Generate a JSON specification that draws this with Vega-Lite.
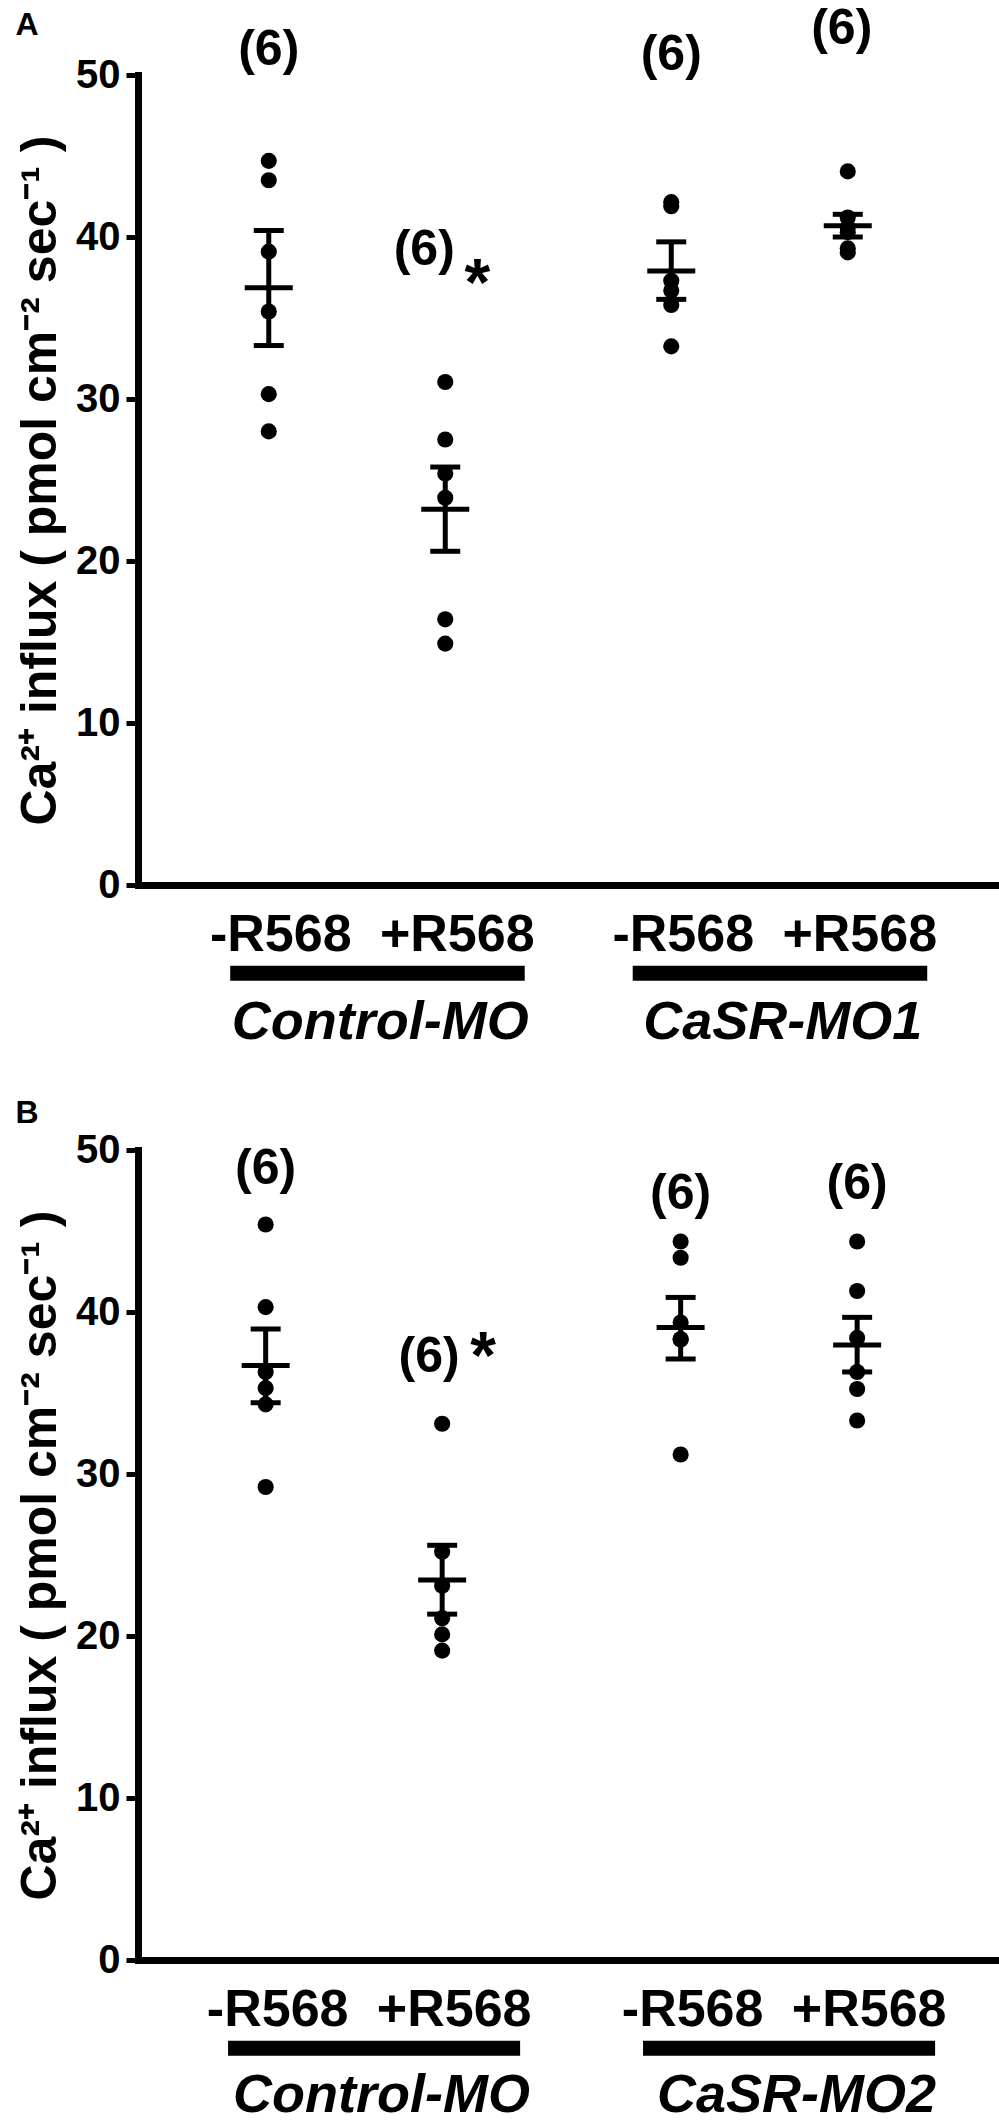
{
  "$schema": "https://vega.github.io/schema/vega-lite/v6.json",
  "background": "white",
  "padding": {"left": 15, "top": 3, "right": 0, "bottom": 0},
  "autosize": {"type": "pad"},
  "bounds": "flush",
  "spacing": 265,
  "config": {
    "view": {"stroke": null},
    "font": "Liberation Sans",
    "axis": {"domainColor": "black", "domainWidth": 7, "domainCap": "square", "tickColor": "black", "tickWidth": 5, "tickSize": 12, "labelColor": "black", "labelFontSize": 40, "labelFontWeight": "bold", "labelPadding": 6, "titleColor": "black", "titleFontSize": 50, "titleFontWeight": "bold", "titlePadding": 10, "grid": false},
    "title": {"color": "black", "fontSize": 32, "fontWeight": "bold", "anchor": "start", "frame": "bounds"}
  },
  "datasets": {
    "points": [
      {"panel": "A", "group": "Control-MO", "treatment": "-R568", "value": 44.7},
      {"panel": "A", "group": "Control-MO", "treatment": "-R568", "value": 43.5},
      {"panel": "A", "group": "Control-MO", "treatment": "-R568", "value": 39.1},
      {"panel": "A", "group": "Control-MO", "treatment": "-R568", "value": 35.4},
      {"panel": "A", "group": "Control-MO", "treatment": "-R568", "value": 30.3},
      {"panel": "A", "group": "Control-MO", "treatment": "-R568", "value": 28.0},
      {"panel": "A", "group": "Control-MO", "treatment": "+R568", "value": 31.05},
      {"panel": "A", "group": "Control-MO", "treatment": "+R568", "value": 27.5},
      {"panel": "A", "group": "Control-MO", "treatment": "+R568", "value": 25.4},
      {"panel": "A", "group": "Control-MO", "treatment": "+R568", "value": 23.9},
      {"panel": "A", "group": "Control-MO", "treatment": "+R568", "value": 16.4},
      {"panel": "A", "group": "Control-MO", "treatment": "+R568", "value": 14.9},
      {"panel": "A", "group": "CaSR-MO1", "treatment": "-R568", "value": 42.15},
      {"panel": "A", "group": "CaSR-MO1", "treatment": "-R568", "value": 41.9},
      {"panel": "A", "group": "CaSR-MO1", "treatment": "-R568", "value": 37.3},
      {"panel": "A", "group": "CaSR-MO1", "treatment": "-R568", "value": 36.7},
      {"panel": "A", "group": "CaSR-MO1", "treatment": "-R568", "value": 35.8},
      {"panel": "A", "group": "CaSR-MO1", "treatment": "-R568", "value": 33.25},
      {"panel": "A", "group": "CaSR-MO1", "treatment": "+R568", "value": 44.05},
      {"panel": "A", "group": "CaSR-MO1", "treatment": "+R568", "value": 41.2},
      {"panel": "A", "group": "CaSR-MO1", "treatment": "+R568", "value": 40.6},
      {"panel": "A", "group": "CaSR-MO1", "treatment": "+R568", "value": 40.3},
      {"panel": "A", "group": "CaSR-MO1", "treatment": "+R568", "value": 39.3},
      {"panel": "A", "group": "CaSR-MO1", "treatment": "+R568", "value": 39.05},
      {"panel": "B", "group": "Control-MO", "treatment": "-R568", "value": 45.4},
      {"panel": "B", "group": "Control-MO", "treatment": "-R568", "value": 40.3},
      {"panel": "B", "group": "Control-MO", "treatment": "-R568", "value": 36.3},
      {"panel": "B", "group": "Control-MO", "treatment": "-R568", "value": 35.3},
      {"panel": "B", "group": "Control-MO", "treatment": "-R568", "value": 34.3},
      {"panel": "B", "group": "Control-MO", "treatment": "-R568", "value": 29.2},
      {"panel": "B", "group": "Control-MO", "treatment": "+R568", "value": 33.1},
      {"panel": "B", "group": "Control-MO", "treatment": "+R568", "value": 25.2},
      {"panel": "B", "group": "Control-MO", "treatment": "+R568", "value": 23.1},
      {"panel": "B", "group": "Control-MO", "treatment": "+R568", "value": 21.1},
      {"panel": "B", "group": "Control-MO", "treatment": "+R568", "value": 20.1},
      {"panel": "B", "group": "Control-MO", "treatment": "+R568", "value": 19.1},
      {"panel": "B", "group": "CaSR-MO2", "treatment": "-R568", "value": 44.35},
      {"panel": "B", "group": "CaSR-MO2", "treatment": "-R568", "value": 43.35},
      {"panel": "B", "group": "CaSR-MO2", "treatment": "-R568", "value": 39.35},
      {"panel": "B", "group": "CaSR-MO2", "treatment": "-R568", "value": 38.33},
      {"panel": "B", "group": "CaSR-MO2", "treatment": "-R568", "value": 38.3},
      {"panel": "B", "group": "CaSR-MO2", "treatment": "-R568", "value": 31.2},
      {"panel": "B", "group": "CaSR-MO2", "treatment": "+R568", "value": 44.35},
      {"panel": "B", "group": "CaSR-MO2", "treatment": "+R568", "value": 41.3},
      {"panel": "B", "group": "CaSR-MO2", "treatment": "+R568", "value": 38.4},
      {"panel": "B", "group": "CaSR-MO2", "treatment": "+R568", "value": 36.3},
      {"panel": "B", "group": "CaSR-MO2", "treatment": "+R568", "value": 35.25},
      {"panel": "B", "group": "CaSR-MO2", "treatment": "+R568", "value": 33.3}
    ],
    "summary": [
      {"panel": "A", "group": "Control-MO", "treatment": "-R568", "mean": 36.87, "lo": 33.3, "hi": 40.4, "nlabel": "(6)"},
      {"panel": "A", "group": "Control-MO", "treatment": "+R568", "mean": 23.2, "lo": 20.6, "hi": 25.8, "nlabel": "(6)"},
      {"panel": "A", "group": "CaSR-MO1", "treatment": "-R568", "mean": 37.9, "lo": 36.15, "hi": 39.7, "nlabel": "(6)"},
      {"panel": "A", "group": "CaSR-MO1", "treatment": "+R568", "mean": 40.7, "lo": 40.0, "hi": 41.4, "nlabel": "(6)"},
      {"panel": "B", "group": "Control-MO", "treatment": "-R568", "mean": 36.7, "lo": 34.4, "hi": 38.95, "nlabel": "(6)"},
      {"panel": "B", "group": "Control-MO", "treatment": "+R568", "mean": 23.45, "lo": 21.35, "hi": 25.6, "nlabel": "(6)"},
      {"panel": "B", "group": "CaSR-MO2", "treatment": "-R568", "mean": 39.04, "lo": 37.1, "hi": 40.9, "nlabel": "(6)"},
      {"panel": "B", "group": "CaSR-MO2", "treatment": "+R568", "mean": 37.96, "lo": 36.3, "hi": 39.67, "nlabel": "(6)"}
    ]
  },
  "vconcat": [
    {
      "width": 862,
      "height": 810,
      "title": {"text": "A", "offset": -38},
      "layer": [
        {
          "data": {"name": "points"},
          "transform": [{"filter": "datum.panel === 'A'"}],
          "mark": {"type": "circle", "size": 260, "color": "black", "opacity": 1},
          "encoding": {
            "x": {"field": "group", "type": "nominal", "sort": ["Control-MO", "CaSR-MO1"], "scale": {"type": "band", "paddingInner": 0.1, "paddingOuter": 0.1208, "align": 0.3895}, "axis": {"labels": false, "ticks": false, "title": null}},
            "xOffset": {"field": "treatment", "type": "nominal", "sort": ["-R568", "+R568"], "scale": {"paddingInner": 0, "paddingOuter": 0.0262}},
            "y": {"field": "value", "type": "quantitative", "scale": {"domain": [0, 50], "nice": false, "zero": true}, "axis": {"values": [0, 10, 20, 30, 40, 50], "title": "Ca²⁺ influx ( pmol cm⁻² sec⁻¹ )"}}
          }
        },
        {
          "data": {"name": "summary"},
          "transform": [{"filter": "datum.panel === 'A'"}],
          "mark": {"type": "rule", "strokeWidth": 5, "color": "black"},
          "encoding": {
            "x": {"field": "group", "type": "nominal", "sort": ["Control-MO", "CaSR-MO1"]},
            "xOffset": {"field": "treatment", "type": "nominal", "sort": ["-R568", "+R568"]},
            "y": {"field": "lo", "type": "quantitative"},
            "y2": {"field": "hi"}
          }
        },
        {
          "data": {"name": "summary"},
          "transform": [{"filter": "datum.panel === 'A'"}],
          "mark": {"type": "tick", "thickness": 5, "size": 48, "color": "black", "opacity": 1},
          "encoding": {
            "x": {"field": "group", "type": "nominal", "sort": ["Control-MO", "CaSR-MO1"]},
            "xOffset": {"field": "treatment", "type": "nominal", "sort": ["-R568", "+R568"]},
            "y": {"field": "mean", "type": "quantitative"}
          }
        },
        {
          "data": {"name": "summary"},
          "transform": [{"filter": "datum.panel === 'A'"}],
          "mark": {"type": "tick", "thickness": 5, "size": 30, "color": "black", "opacity": 1},
          "encoding": {
            "x": {"field": "group", "type": "nominal", "sort": ["Control-MO", "CaSR-MO1"]},
            "xOffset": {"field": "treatment", "type": "nominal", "sort": ["-R568", "+R568"]},
            "y": {"field": "lo", "type": "quantitative"}
          }
        },
        {
          "data": {"name": "summary"},
          "transform": [{"filter": "datum.panel === 'A'"}],
          "mark": {"type": "tick", "thickness": 5, "size": 30, "color": "black", "opacity": 1},
          "encoding": {
            "x": {"field": "group", "type": "nominal", "sort": ["Control-MO", "CaSR-MO1"]},
            "xOffset": {"field": "treatment", "type": "nominal", "sort": ["-R568", "+R568"]},
            "y": {"field": "hi", "type": "quantitative"}
          }
        },
        {
          "data": {"name": "summary"},
          "transform": [{"filter": "datum.panel === 'A'"}],
          "mark": {"type": "text", "fontSize": 52, "fontWeight": "bold", "color": "black", "baseline": "alphabetic", "align": "center", "dx": 12},
          "encoding": {
            "x": {"field": "group", "type": "nominal", "sort": ["Control-MO", "CaSR-MO1"]},
            "xOffset": {"field": "treatment", "type": "nominal", "sort": ["-R568", "+R568"]},
            "y": {"datum": -4.1, "type": "quantitative"},
            "text": {"field": "treatment"}
          }
        },
        {
          "data": {"name": "summary"},
          "transform": [{"filter": "datum.panel === 'A' && datum.treatment === '-R568'"}],
          "mark": {"type": "rule", "strokeWidth": 15, "color": "black", "strokeCap": "butt"},
          "encoding": {
            "x": {"field": "group", "type": "nominal", "sort": ["Control-MO", "CaSR-MO1"], "bandPosition": 0.15},
            "x2": {"field": "group", "bandPosition": 0.963},
            "y": {"datum": -5.45, "type": "quantitative"}
          }
        },
        {
          "data": {"name": "summary"},
          "transform": [{"filter": "datum.panel === 'A' && datum.treatment === '-R568'"}],
          "mark": {"type": "text", "fontSize": 54, "fontWeight": "bold", "fontStyle": "italic", "color": "black", "baseline": "alphabetic", "align": "center"},
          "encoding": {
            "x": {"field": "group", "type": "nominal", "sort": ["Control-MO", "CaSR-MO1"], "bandPosition": 0.564},
            "y": {"datum": -9.5, "type": "quantitative"},
            "text": {"field": "group"}
          }
        },
        {
          "data": {"name": "summary"},
          "transform": [{"filter": "datum.panel === 'A' && datum.group === 'Control-MO' && datum.treatment === '-R568'"}],
          "mark": {"type": "text", "fontSize": 50, "fontWeight": "bold", "color": "black", "baseline": "middle", "align": "center"},
          "encoding": {
            "x": {"field": "group", "type": "nominal", "sort": ["Control-MO", "CaSR-MO1"]},
            "xOffset": {"field": "treatment", "type": "nominal", "sort": ["-R568", "+R568"]},
            "y": {"datum": 51.57, "type": "quantitative"},
            "text": {"field": "nlabel"}
          }
        },
        {
          "data": {"name": "summary"},
          "transform": [{"filter": "datum.panel === 'A' && datum.group === 'Control-MO' && datum.treatment === '+R568'"}],
          "mark": {"type": "text", "fontSize": 50, "fontWeight": "bold", "color": "black", "baseline": "middle", "align": "center", "dx": -21},
          "encoding": {
            "x": {"field": "group", "type": "nominal", "sort": ["Control-MO", "CaSR-MO1"]},
            "xOffset": {"field": "treatment", "type": "nominal", "sort": ["-R568", "+R568"]},
            "y": {"datum": 39.2, "type": "quantitative"},
            "text": {"field": "nlabel"}
          }
        },
        {
          "data": {"name": "summary"},
          "transform": [{"filter": "datum.panel === 'A' && datum.group === 'Control-MO' && datum.treatment === '+R568'"}],
          "mark": {"type": "text", "fontSize": 66, "fontWeight": "bold", "color": "black", "baseline": "alphabetic", "align": "center", "dx": 32},
          "encoding": {
            "x": {"field": "group", "type": "nominal", "sort": ["Control-MO", "CaSR-MO1"]},
            "xOffset": {"field": "treatment", "type": "nominal", "sort": ["-R568", "+R568"]},
            "y": {"datum": 35.8, "type": "quantitative"},
            "text": {"value": "*"}
          }
        },
        {
          "data": {"name": "summary"},
          "transform": [{"filter": "datum.panel === 'A' && datum.group === 'CaSR-MO1' && datum.treatment === '-R568'"}],
          "mark": {"type": "text", "fontSize": 50, "fontWeight": "bold", "color": "black", "baseline": "middle", "align": "center"},
          "encoding": {
            "x": {"field": "group", "type": "nominal", "sort": ["Control-MO", "CaSR-MO1"]},
            "xOffset": {"field": "treatment", "type": "nominal", "sort": ["-R568", "+R568"]},
            "y": {"datum": 51.26, "type": "quantitative"},
            "text": {"field": "nlabel"}
          }
        },
        {
          "data": {"name": "summary"},
          "transform": [{"filter": "datum.panel === 'A' && datum.group === 'CaSR-MO1' && datum.treatment === '+R568'"}],
          "mark": {"type": "text", "fontSize": 50, "fontWeight": "bold", "color": "black", "baseline": "middle", "align": "center", "dx": -6},
          "encoding": {
            "x": {"field": "group", "type": "nominal", "sort": ["Control-MO", "CaSR-MO1"]},
            "xOffset": {"field": "treatment", "type": "nominal", "sort": ["-R568", "+R568"]},
            "y": {"datum": 52.85, "type": "quantitative"},
            "text": {"field": "nlabel"}
          }
        }
      ]
    },
    {
      "width": 862,
      "height": 810,
      "title": {"text": "B", "offset": 0},
      "layer": [
        {
          "data": {"name": "points"},
          "transform": [{"filter": "datum.panel === 'B'"}],
          "mark": {"type": "circle", "size": 260, "color": "black", "opacity": 1},
          "encoding": {
            "x": {"field": "group", "type": "nominal", "sort": ["Control-MO", "CaSR-MO2"], "scale": {"type": "band", "paddingInner": 0.1, "paddingOuter": 0.0886, "align": 0.473}, "axis": {"labels": false, "ticks": false, "title": null}},
            "xOffset": {"field": "treatment", "type": "nominal", "sort": ["-R568", "+R568"], "scale": {"paddingInner": 0, "paddingOuter": 0.0733}},
            "y": {"field": "value", "type": "quantitative", "scale": {"domain": [0, 50], "nice": false, "zero": true}, "axis": {"values": [0, 10, 20, 30, 40, 50], "title": "Ca²⁺ influx ( pmol cm⁻² sec⁻¹ )"}}
          }
        },
        {
          "data": {"name": "summary"},
          "transform": [{"filter": "datum.panel === 'B'"}],
          "mark": {"type": "rule", "strokeWidth": 5, "color": "black"},
          "encoding": {
            "x": {"field": "group", "type": "nominal", "sort": ["Control-MO", "CaSR-MO2"]},
            "xOffset": {"field": "treatment", "type": "nominal", "sort": ["-R568", "+R568"]},
            "y": {"field": "lo", "type": "quantitative"},
            "y2": {"field": "hi"}
          }
        },
        {
          "data": {"name": "summary"},
          "transform": [{"filter": "datum.panel === 'B'"}],
          "mark": {"type": "tick", "thickness": 5, "size": 48, "color": "black", "opacity": 1},
          "encoding": {
            "x": {"field": "group", "type": "nominal", "sort": ["Control-MO", "CaSR-MO2"]},
            "xOffset": {"field": "treatment", "type": "nominal", "sort": ["-R568", "+R568"]},
            "y": {"field": "mean", "type": "quantitative"}
          }
        },
        {
          "data": {"name": "summary"},
          "transform": [{"filter": "datum.panel === 'B'"}],
          "mark": {"type": "tick", "thickness": 5, "size": 30, "color": "black", "opacity": 1},
          "encoding": {
            "x": {"field": "group", "type": "nominal", "sort": ["Control-MO", "CaSR-MO2"]},
            "xOffset": {"field": "treatment", "type": "nominal", "sort": ["-R568", "+R568"]},
            "y": {"field": "lo", "type": "quantitative"}
          }
        },
        {
          "data": {"name": "summary"},
          "transform": [{"filter": "datum.panel === 'B'"}],
          "mark": {"type": "tick", "thickness": 5, "size": 30, "color": "black", "opacity": 1},
          "encoding": {
            "x": {"field": "group", "type": "nominal", "sort": ["Control-MO", "CaSR-MO2"]},
            "xOffset": {"field": "treatment", "type": "nominal", "sort": ["-R568", "+R568"]},
            "y": {"field": "hi", "type": "quantitative"}
          }
        },
        {
          "data": {"name": "summary"},
          "transform": [{"filter": "datum.panel === 'B'"}],
          "mark": {"type": "text", "fontSize": 52, "fontWeight": "bold", "color": "black", "baseline": "alphabetic", "align": "center", "dx": 12},
          "encoding": {
            "x": {"field": "group", "type": "nominal", "sort": ["Control-MO", "CaSR-MO2"]},
            "xOffset": {"field": "treatment", "type": "nominal", "sort": ["-R568", "+R568"]},
            "y": {"datum": -4.1, "type": "quantitative"},
            "text": {"field": "treatment"}
          }
        },
        {
          "data": {"name": "summary"},
          "transform": [{"filter": "datum.panel === 'B' && datum.treatment === '-R568'"}],
          "mark": {"type": "rule", "strokeWidth": 15, "color": "black", "strokeCap": "butt"},
          "encoding": {
            "x": {"field": "group", "type": "nominal", "sort": ["Control-MO", "CaSR-MO2"], "bandPosition": 0.148},
            "x2": {"field": "group", "bandPosition": 0.93},
            "y": {"datum": -5.45, "type": "quantitative"}
          }
        },
        {
          "data": {"name": "summary"},
          "transform": [{"filter": "datum.panel === 'B' && datum.treatment === '-R568'"}],
          "mark": {"type": "text", "fontSize": 54, "fontWeight": "bold", "fontStyle": "italic", "color": "black", "baseline": "alphabetic", "align": "center"},
          "encoding": {
            "x": {"field": "group", "type": "nominal", "sort": ["Control-MO", "CaSR-MO2"], "bandPosition": 0.559},
            "y": {"datum": -9.4, "type": "quantitative"},
            "text": {"field": "group"}
          }
        },
        {
          "data": {"name": "summary"},
          "transform": [{"filter": "datum.panel === 'B' && datum.group === 'Control-MO' && datum.treatment === '-R568'"}],
          "mark": {"type": "text", "fontSize": 50, "fontWeight": "bold", "color": "black", "baseline": "middle", "align": "center"},
          "encoding": {
            "x": {"field": "group", "type": "nominal", "sort": ["Control-MO", "CaSR-MO2"]},
            "xOffset": {"field": "treatment", "type": "nominal", "sort": ["-R568", "+R568"]},
            "y": {"datum": 48.8, "type": "quantitative"},
            "text": {"field": "nlabel"}
          }
        },
        {
          "data": {"name": "summary"},
          "transform": [{"filter": "datum.panel === 'B' && datum.group === 'Control-MO' && datum.treatment === '+R568'"}],
          "mark": {"type": "text", "fontSize": 50, "fontWeight": "bold", "color": "black", "baseline": "middle", "align": "center", "dx": -13},
          "encoding": {
            "x": {"field": "group", "type": "nominal", "sort": ["Control-MO", "CaSR-MO2"]},
            "xOffset": {"field": "treatment", "type": "nominal", "sort": ["-R568", "+R568"]},
            "y": {"datum": 37.2, "type": "quantitative"},
            "text": {"field": "nlabel"}
          }
        },
        {
          "data": {"name": "summary"},
          "transform": [{"filter": "datum.panel === 'B' && datum.group === 'Control-MO' && datum.treatment === '+R568'"}],
          "mark": {"type": "text", "fontSize": 66, "fontWeight": "bold", "color": "black", "baseline": "alphabetic", "align": "center", "dx": 41},
          "encoding": {
            "x": {"field": "group", "type": "nominal", "sort": ["Control-MO", "CaSR-MO2"]},
            "xOffset": {"field": "treatment", "type": "nominal", "sort": ["-R568", "+R568"]},
            "y": {"datum": 35.91, "type": "quantitative"},
            "text": {"value": "*"}
          }
        },
        {
          "data": {"name": "summary"},
          "transform": [{"filter": "datum.panel === 'B' && datum.group === 'CaSR-MO2' && datum.treatment === '-R568'"}],
          "mark": {"type": "text", "fontSize": 50, "fontWeight": "bold", "color": "black", "baseline": "middle", "align": "center"},
          "encoding": {
            "x": {"field": "group", "type": "nominal", "sort": ["Control-MO", "CaSR-MO2"]},
            "xOffset": {"field": "treatment", "type": "nominal", "sort": ["-R568", "+R568"]},
            "y": {"datum": 47.3, "type": "quantitative"},
            "text": {"field": "nlabel"}
          }
        },
        {
          "data": {"name": "summary"},
          "transform": [{"filter": "datum.panel === 'B' && datum.group === 'CaSR-MO2' && datum.treatment === '+R568'"}],
          "mark": {"type": "text", "fontSize": 50, "fontWeight": "bold", "color": "black", "baseline": "middle", "align": "center"},
          "encoding": {
            "x": {"field": "group", "type": "nominal", "sort": ["Control-MO", "CaSR-MO2"]},
            "xOffset": {"field": "treatment", "type": "nominal", "sort": ["-R568", "+R568"]},
            "y": {"datum": 47.9, "type": "quantitative"},
            "text": {"field": "nlabel"}
          }
        }
      ]
    }
  ]
}
